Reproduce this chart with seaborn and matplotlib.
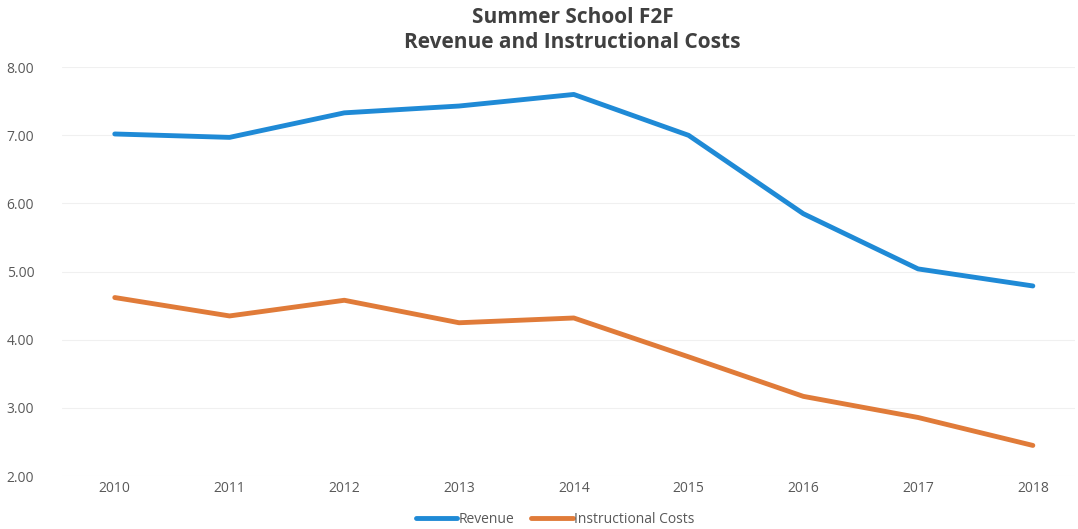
import pandas as pd
import matplotlib
matplotlib.use('Agg')
import matplotlib.pyplot as plt
import seaborn as sns

# Dữ liệu
years = [2010, 2011, 2012, 2013, 2014, 2015, 2016, 2017, 2018]
revenue = [7.02, 6.97, 7.33, 7.43, 7.60, 7.00, 5.85, 5.04, 4.79]
instr_costs = [4.62, 4.35, 4.58, 4.25, 4.32, 3.75, 3.17, 2.86, 2.45]
series_names = ['Revenue', 'Instructional Costs']
colors = ['#1f8ad6', '#e07b39']

df = pd.DataFrame({
    'Year': years * 2,
    'Value': revenue + instr_costs,
    'Series': [series_names[0]] * len(years) + [series_names[1]] * len(years),
})

sns.set_style('white')
plt.rcParams['font.family'] = ['Open Sans', 'DejaVu Sans']

fig = plt.figure(figsize=(10.78, 5.29), dpi=100)
ax = fig.add_axes([0.0575, 0.100, 0.94, 0.773])

sns.lineplot(data=df, x='Year', y='Value', hue='Series', palette=colors,
             linewidth=3.5, ax=ax, legend=False)

ax.set_xlim(2009.54, 2018.37)
ax.set_ylim(2.0, 8.0)
ax.set_xticks(years)
ax.set_yticks([2, 3, 4, 5, 6, 7, 8])
ax.set_yticklabels([f'{v:.2f}' for v in [2, 3, 4, 5, 6, 7, 8]])
ax.yaxis.grid(True, color='#f0f0f0', linewidth=0.8)
ax.set_axisbelow(True)
for s in ax.spines.values():
    s.set_visible(False)
ax.tick_params(axis='both', length=0, labelsize=10, colors='#595959')
ax.tick_params(axis='y', pad=20)
ax.set_xlabel('')
ax.set_ylabel('')

# Tiêu đề 2 dòng
fig.text(0.531, 0.966, 'Summer School F2F', ha='center', va='center',
         fontsize=15, fontweight='bold', color='#404040')
fig.text(0.531, 0.919, 'Revenue and Instructional Costs', ha='center', va='center',
         fontsize=15, fontweight='bold', color='#404040')

handles = [plt.Line2D([0], [0], color=c, lw=3.5) for c in colors]
fig.legend(handles, series_names, loc='center', bbox_to_anchor=(0.515, 0.018),
           ncol=2, frameon=False, fontsize=10, handlelength=3,
           handletextpad=0.1, columnspacing=1.2, labelcolor='#595959')

plt.savefig('out.png', dpi=100)
